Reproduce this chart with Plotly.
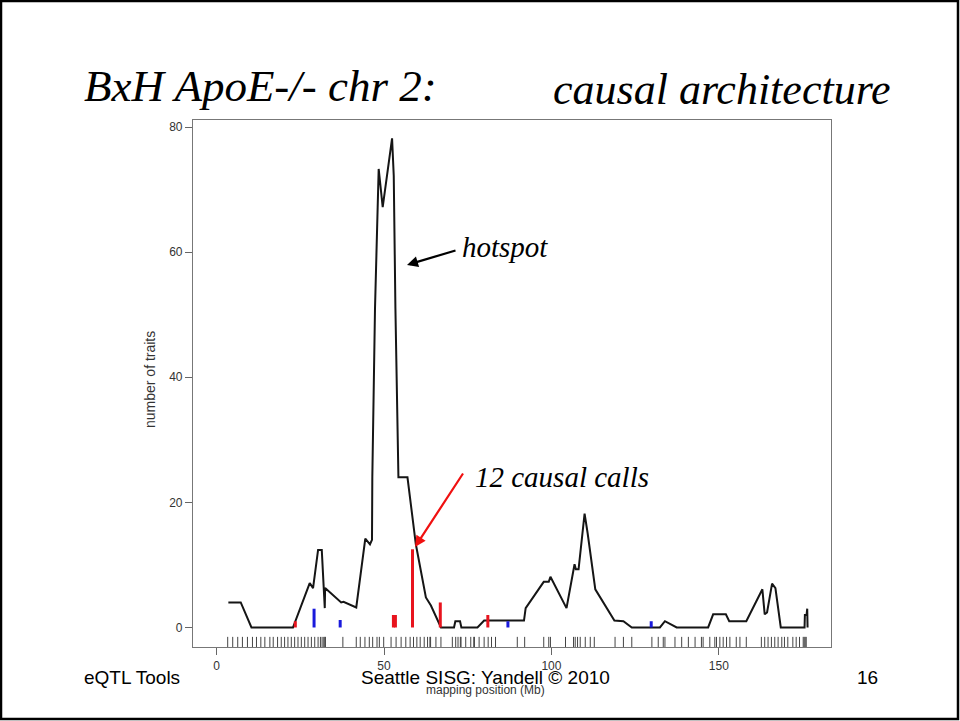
import plotly.graph_objects as go

# ---- data ----
curve_pos = [3.5, 7.2, 10.4, 22.8, 27.8, 28.8, 30.3, 31.4, 32.3, 32.4, 37.2, 37.9, 41.7,
             44.4, 45.8, 46.4, 46.5, 47.3, 48.4, 49.6, 52.4, 52.9, 53.4, 54.3, 57.0, 59.5,
             62.5, 64.0, 67.0, 70.9, 71.3, 72.7, 73.1, 77.9, 79.9, 91.8, 92.3, 97.7, 99.2,
             99.7, 104.5, 106.9, 107.3, 108.1, 109.9, 110.8, 113.1, 118.8, 121.5, 124.0,
             132.4, 133.9, 137.4, 146.8, 148.3, 152.1, 153.1, 158.2, 163.0, 163.7, 164.4,
             165.9, 166.9, 168.5, 175.6, 175.7, 176.2, 176.4, 176.5]
curve_val = [4, 4, 0, 0, 7.1, 6.3, 12.4, 12.4, 3.1, 6.3, 4.0, 4.1, 3.2,
             14.2, 13.3, 14, 24, 51, 73.3, 67.2, 78.2, 72.2, 51, 24, 24, 13.3,
             4.8, 3.5, 0, 0, 1, 1, 0, 0, 1.1, 1.1, 3.1, 7.3, 7.3,
             8.1, 3.1, 10.1, 9.3, 9.3, 18.2, 15.1, 6.1, 1.1, 1, 0,
             0, 1, 0, 0, 2.1, 2.1, 1, 1, 6.1, 2.1, 2.4,
             7.0, 6.3, 0, 0, 2, 2, 3, 0]

red_pos = [23.5, 52.8, 53.4, 58.5, 66.8, 81.0]
red_val = [1, 2, 2, 12.5, 4, 2]
blue_pos = [29.1, 36.9, 87.0, 129.8]
blue_val = [3, 1.2, 1, 1]

rug_pos = [3.3, 4.8, 6.3, 7.7, 9.2, 10.7, 11.9, 13.2, 14.4, 15.9, 16.9, 18.2, 19.3, 20.3,
           21.3, 22.3, 23.3, 24.3, 25.3, 26.3, 27.3, 28.3, 29.3, 30.3, 31.0, 31.5, 32.0,
           32.3, 32.5, 37.7, 41.7, 42.9, 44.3, 45.6,
           46.6, 47.9, 48.6, 49.9, 52.1, 53.6, 55.1, 56.5, 57.8, 58.8, 59.8, 60.8, 62.0,
           63.0, 63.7, 63.9, 65.5, 67.0, 70.4, 71.4, 72.1, 72.8, 73.0, 74.4, 75.9, 76.8,
           77.0, 78.4, 79.9, 81.1, 82.1, 83.3, 89.8,
           92.0, 97.7, 99.2, 99.7, 104.2, 106.6, 107.1, 107.8, 108.6, 110.1, 111.6, 112.8,
           119.0, 121.5, 124.0, 130.0, 131.9, 133.4, 133.9,
           136.9, 138.9, 140.9, 142.9, 144.8, 145.3, 147.3, 148.8, 149.3, 150.3, 151.3,
           152.3, 153.3, 155.2, 156.3, 158.2, 162.7, 163.7, 164.7, 165.7, 166.7, 167.7,
           168.8, 169.6, 170.6, 172.1, 173.1, 174.1, 175.2, 175.5, 175.8, 176.1]

x_ticks = [0, 50, 100, 150]
y_ticks = [0, 20, 40, 60, 80]
x_range = [-7.06, 183.5]
y_range = [-3.12, 81.12]
rug_top = -1.5


def segs(pos, top, base):
    xs, ys = [], []
    for p, t in zip(pos, top):
        xs += [p, p, None]
        ys += [base, t, None]
    return xs, ys


fig = go.Figure()

rx, ry = segs(rug_pos, [rug_top] * len(rug_pos), y_range[0])
fig.add_trace(go.Scatter(x=rx, y=ry, mode="lines", line=dict(color="#444", width=1),
                         hoverinfo="skip"))
fig.add_trace(go.Scatter(x=curve_pos, y=curve_val, mode="lines",
                         line=dict(color="#151515", width=2)))
bx, by = segs(red_pos, red_val, 0)
fig.add_trace(go.Scatter(x=bx, y=by, mode="lines", line=dict(color="#e8141e", width=3)))
bx, by = segs(blue_pos, blue_val, 0)
fig.add_trace(go.Scatter(x=bx, y=by, mode="lines", line=dict(color="#1a1adc", width=3)))

L, R, T, B = 193, 831, 120, 647
W, H = 960, 721


def px(xp):
    return (xp - L) / (R - L)


def py(yp):
    return (B - yp) / (B - T)


serif = "Liberation Serif, Times New Roman, serif"
sans = "Liberation Sans, Arial, sans-serif"


def text_ann(x, y, text, font, xa="left", ya="middle", angle=0):
    return dict(x=px(x), y=py(y), xref="paper", yref="paper", xanchor=xa,
                yanchor=ya, showarrow=False, text=text, font=font, textangle=angle)


ann = [
    text_ann(82, 86, "<i>BxH ApoE-/- chr 2:</i>", dict(family=serif, size=45, color="#000")),
    text_ann(893, 89, "<i>causal architecture</i>", dict(family=serif, size=44, color="#000"),
             xa="right"),
    text_ann(460, 247, "<i>hotspot</i>", dict(family=serif, size=29, color="#000")),
    text_ann(473, 477, "<i>12 causal calls</i>", dict(family=serif, size=29, color="#000")),
    text_ann(150, 380, "number of traits", dict(family=sans, size=14, color="#333"),
             xa="center", angle=-90),
    text_ann(485, 690, "mapping position (Mb)", dict(family=sans, size=12, color="#333"),
             xa="center"),
    text_ann(82, 677, "eQTL Tools", dict(family=sans, size=19, color="#000")),
    text_ann(485, 677, "Seattle SISG: Yandell © 2010", dict(family=sans, size=19, color="#000"),
             xa="center"),
    text_ann(880, 677, "16", dict(family=sans, size=19, color="#000"), xa="right"),
    dict(x=px(407), y=py(265), xref="paper", yref="paper", ax=50, ay=-15,
         showarrow=True, arrowhead=2, arrowsize=1, arrowwidth=2.2, arrowcolor="#000", text=""),
    dict(x=px(415), y=py(547), xref="paper", yref="paper", ax=49, ay=-75,
         showarrow=True, arrowhead=2, arrowsize=1, arrowwidth=2.2, arrowcolor="#f01010", text=""),
]

shapes = [dict(type="rect", xref="paper", yref="paper",
               x0=px(1), x1=px(W - 2), y0=py(H - 2), y1=py(1),
               line=dict(color="#000", width=2.5))]

axis_common = dict(ticks="outside", ticklen=7, tickcolor="#666", showline=True, mirror=True,
                   linecolor="#777", linewidth=1.2, showgrid=False, zeroline=False,
                   tickfont=dict(family=sans, size=12, color="#333"))

fig.update_layout(
    width=W, height=H,
    margin=dict(l=L, r=W - R, t=T, b=H - B, pad=0),
    paper_bgcolor="white", plot_bgcolor="white",
    showlegend=False,
    annotations=ann, shapes=shapes,
    xaxis=dict(range=x_range, tickvals=x_ticks, **axis_common),
    yaxis=dict(range=y_range, tickvals=y_ticks, **axis_common),
)

fig.write_html("out.html")
